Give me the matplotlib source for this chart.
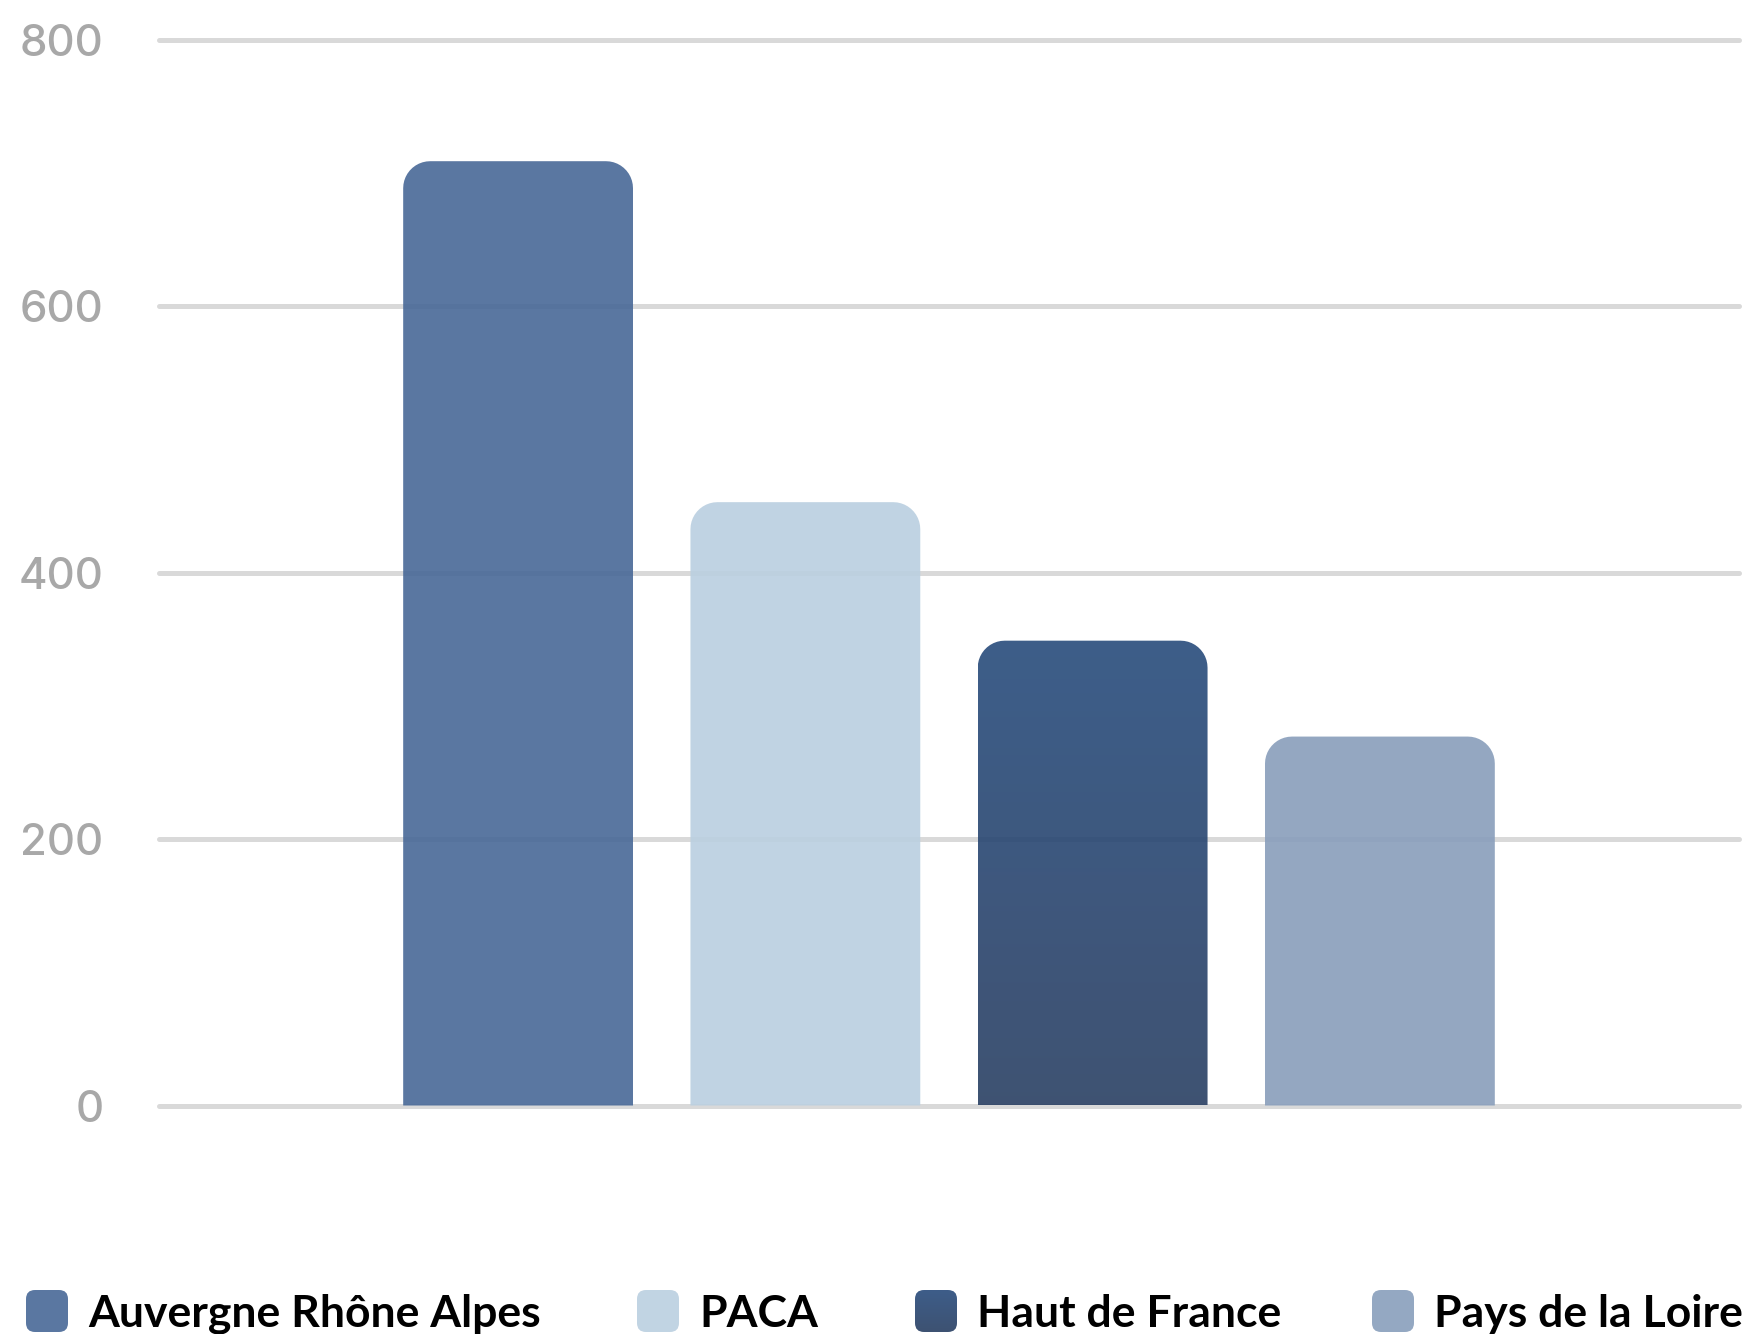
import numpy as np
import matplotlib
matplotlib.use("Agg")
import matplotlib.pyplot as plt
import matplotlib.colors as mcolors
from matplotlib.path import Path
from matplotlib.patches import PathPatch, FancyBboxPatch

regions = ["Auvergne Rhône Alpes", "PACA", "Haut de France", "Pays de la Loire"]
values = [709, 453, 349, 277]
colors = ["#5a77a1", "#c1d4e3", "#3d5d89", "#94a8c2"]
gradients = [None, None, ("#3d5d89", "#3e5272"), None]
yticks = [0, 200, 400, 600, 800]

W, H, DPI = 1742, 1334, 100
ALPHA = 0.9


def under_alpha(c):
    # colour to paint at ALPHA so that it looks like c on white
    rgb = np.array(mcolors.to_rgb(c))
    return tuple(np.clip((rgb - (1 - ALPHA)) / ALPHA, 0, 1))


def top_rounded(x0, y0, w, h, rx, ry, n=12):
    t = np.linspace(0, np.pi / 2, n)
    verts = [(x0, y0), (x0, y0 + h - ry)]
    # top-left corner
    for a in t:
        verts.append((x0 + rx - rx * np.cos(a), y0 + h - ry + ry * np.sin(a)))
    # top-right corner
    for a in t[::-1]:
        verts.append((x0 + w - rx + rx * np.cos(a), y0 + h - ry + ry * np.sin(a)))
    verts += [(x0 + w, y0), (x0, y0)]
    codes = [Path.MOVETO] + [Path.LINETO] * (len(verts) - 2) + [Path.CLOSEPOLY]
    return Path(verts, codes)


def gradient_into(ax, patch, top, bottom, zorder):
    x0, y0, x1, y1 = patch.get_path().get_extents().extents
    c0 = np.array(under_alpha(top))
    c1 = np.array(under_alpha(bottom))
    f = np.linspace(0, 1, 256)[:, None]
    img = (c0 * (1 - f) + c1 * f)[:, None, :]
    im = ax.imshow(img, extent=(x0, x1, y0, y1), aspect="auto", origin="upper",
                   alpha=ALPHA, zorder=zorder, interpolation="bilinear")
    im.set_clip_path(patch)


fig = plt.figure(figsize=(W / DPI, H / DPI), dpi=DPI)

# axes placed so that 0 sits at y=1105 px and 800 at y=40 px
pad_u = 8
px_per_u = (1105.5 - 40) / 800
bottom = (H - 1105.5 - pad_u * px_per_u) / H
top = (H - 40 + pad_u * px_per_u) / H
left, right = 159 / W, 1739 / W
ax = fig.add_axes([left, bottom, right - left, top - bottom])

x = np.arange(len(regions))
ax.set_xlim(-1.25, len(regions) - 1 + 1.25)
ax.set_ylim(-pad_u, 800 + pad_u)

for s in ax.spines.values():
    s.set_visible(False)
ax.set_xticks([])
ax.set_yticks(yticks)
ax.tick_params(axis="y", length=0, pad=40, labelsize=31.5, labelcolor="#a8a8a8")
for lab in ax.get_yticklabels():
    lab.set_fontfamily("Inter")
    lab.set_fontweight("medium")
for yv in yticks:
    ax.plot(ax.get_xlim(), [yv, yv], color="#d9d9d9", lw=3.6,
            solid_capstyle="round", zorder=1, clip_on=False)

bars = ax.bar(x, values, width=0.8, color="none", edgecolor="none")
fig.canvas.draw()
p0 = ax.transData.transform((0, 0))
p1 = ax.transData.transform((1, 1))
r_px = 27
rx = r_px / (p1[0] - p0[0])
ry = r_px / (p1[1] - p0[1])

for b, c, g in zip(bars, colors, gradients):
    path = top_rounded(b.get_x(), b.get_y(), b.get_width(), b.get_height(), rx, ry)
    if g is None:
        patch = PathPatch(path, facecolor=under_alpha(c), edgecolor="none",
                          alpha=ALPHA, zorder=2)
        ax.add_patch(patch)
    else:
        patch = PathPatch(path, facecolor="none", edgecolor="none", zorder=2)
        ax.add_patch(patch)
        gradient_into(ax, patch, g[0], g[1], zorder=2)
ax.set_xlim(-1.25, len(regions) - 1 + 1.25)
ax.set_ylim(-pad_u, 800 + pad_u)

# legend drawn in pixel space
lg = fig.add_axes([0, 0, 1, 1])
lg.set_xlim(0, W)
lg.set_ylim(0, H)
lg.axis("off")
legend_x = [26, 637, 915, 1372]
for lx, name, c, g in zip(legend_x, regions, colors, gradients):
    box = FancyBboxPatch((lx, 2), 42, 42, boxstyle="round,pad=0,rounding_size=9",
                         facecolor=c if g is None else "none", edgecolor="none")
    lg.add_patch(box)
    if g is not None:
        c0 = np.array(mcolors.to_rgb(g[0]))
        c1 = np.array(mcolors.to_rgb(g[1]))
        f = np.linspace(0, 1, 64)[:, None]
        im = lg.imshow((c0 * (1 - f) + c1 * f)[:, None, :], extent=(lx, lx + 42, 2, 44),
                       aspect="auto", origin="upper")
        im.set_clip_path(box)
    lg.text(lx + 62, 7, name, fontsize=32, fontweight="bold", family="Lato",
            color="#000000", va="baseline", ha="left")
lg.set_xlim(0, W)
lg.set_ylim(0, H)

fig.savefig("out.png", dpi=DPI)
